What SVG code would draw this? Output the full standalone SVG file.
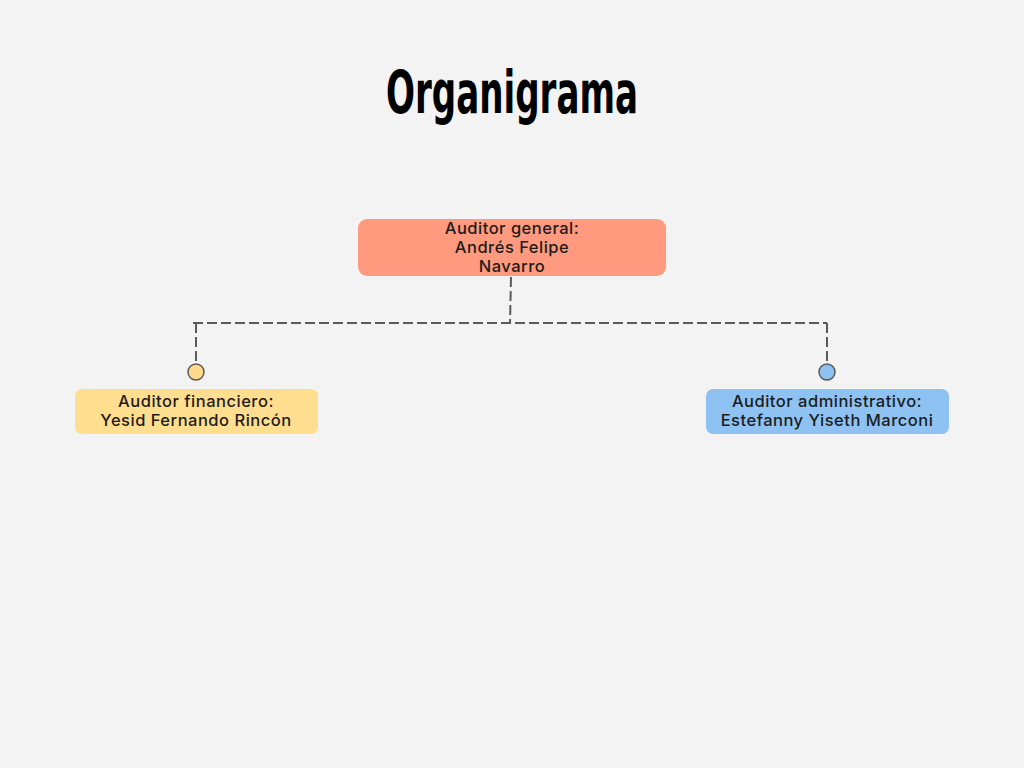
<svg xmlns="http://www.w3.org/2000/svg" width="1024" height="768" viewBox="0 0 1024 768">
<style>
.t{font-family:Inter,"Noto Sans","Liberation Sans",sans-serif;font-size:16.5px;letter-spacing:0.5px;font-weight:500;fill:#1c1c1c;text-anchor:middle}
.c{fill:none;stroke:#5a5a5a;stroke-width:2;stroke-dasharray:10 4}
.dot{stroke:#5a5a5a;stroke-width:1.5}
</style>
<rect width="1024" height="768" fill="#f3f3f3"/>
<text x="512" y="113" font-family="'Liberation Sans Narrow','DejaVu Sans Condensed','Liberation Sans',sans-serif" font-weight="bold" font-size="58" text-anchor="middle" textLength="252" lengthAdjust="spacingAndGlyphs" fill="#000">Organigrama</text>
<g id="connectors">
<path class="c" d="M511 277 L510 323"/>
<path class="c" d="M193 323 L827 323"/>
<path class="c" d="M196 323 L196 364"/>
<path class="c" d="M827 323 L827 364"/>
<circle class="dot" cx="196" cy="372" r="8" fill="#ffd98c"/>
<circle class="dot" cx="827" cy="372" r="8" fill="#8ec2f2"/>
</g>
<g id="general">
<rect x="358" y="219" width="308" height="57" rx="9" fill="#ff9a7e"/>
<text class="t" x="512" y="234">Auditor general:</text>
<text class="t" x="512" y="253">Andrés Felipe</text>
<text class="t" x="512" y="272">Navarro</text>
</g>
<g id="financiero">
<rect x="75" y="389" width="243" height="45" rx="7" fill="#ffde8f"/>
<text class="t" x="196" y="407">Auditor financiero:</text>
<text class="t" x="196" y="426">Yesid Fernando Rincón</text>
</g>
<g id="administrativo">
<rect x="706" y="389" width="243" height="45" rx="7" fill="#8ec2f2"/>
<text class="t" x="827" y="407">Auditor administrativo:</text>
<text class="t" x="827" y="426">Estefanny Yiseth Marconi</text>
</g>
</svg>
